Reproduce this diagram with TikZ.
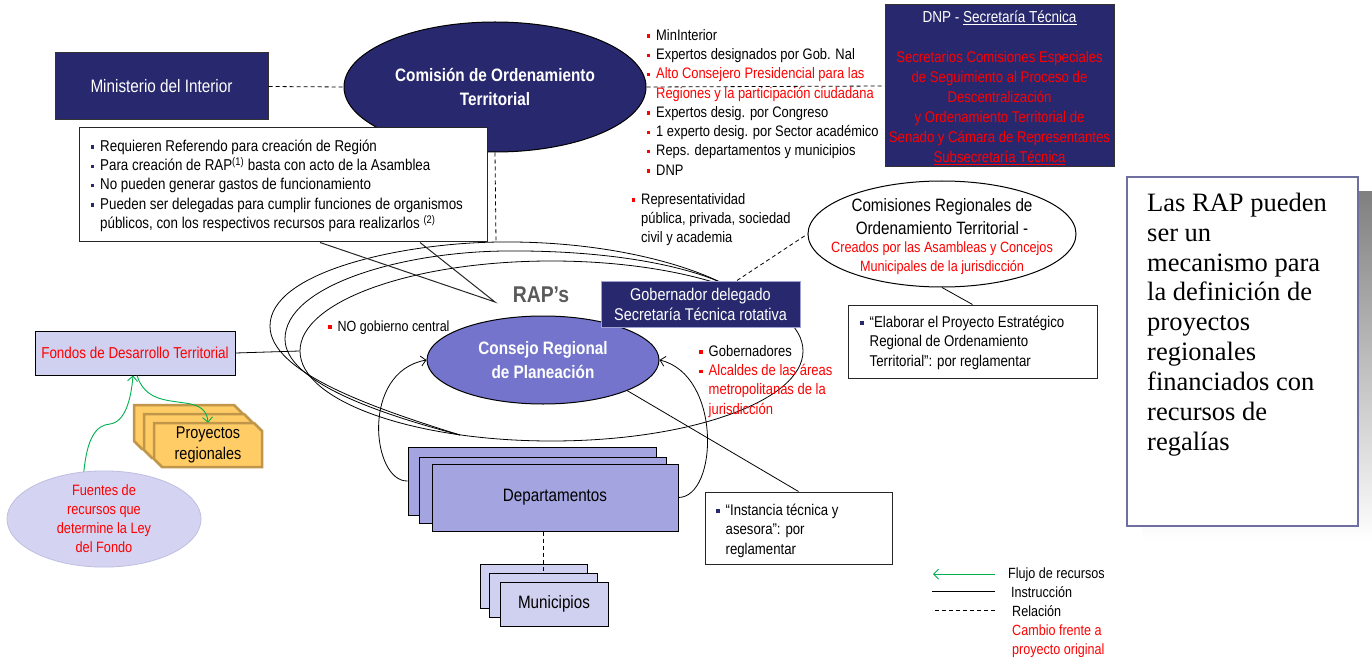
\documentclass[tikz,border=0pt]{standalone}
\usepackage{fontspec}
\setsansfont{Liberation Sans}[FakeStretch=0.85]
\newfontfamily\serifbox{Liberation Serif}
\renewcommand{\familydefault}{\sfdefault}
\usetikzlibrary{arrows.meta,shapes.geometric,calc}

\definecolor{navy}{RGB}{40,40,110}
\definecolor{consej}{RGB}{116,116,204}
\definecolor{deptc}{RGB}{164,164,224}
\definecolor{lav}{RGB}{208,208,240}
\definecolor{fuelav}{RGB}{212,212,242}
\definecolor{gold}{RGB}{255,204,102}
\definecolor{goldedge}{RGB}{192,150,75}
\definecolor{flow}{RGB}{0,176,80}
\definecolor{slate}{RGB}{110,110,160}
\definecolor{shade}{RGB}{192,192,192}
\definecolor{rapgray}{RGB}{90,90,90}
\definecolor{gobedge}{RGB}{160,160,210}

\newcommand\fsz[2]{\fontsize{#1pt}{#2pt}\selectfont}
\newcommand\bsq[1]{\makebox[9.5pt][l]{\textcolor{#1}{\rule[2.6pt]{3.3pt}{3.3pt}}}}
\newcommand\hind{\hspace*{9.5pt}}
\newcommand\lstrut{\rule{0pt}{16pt}}
% chamfered card: top-right and bottom-left corners cut
\newcommand\snipbox[4]{\filldraw[projs] (#1,#2) -- (#3-8,#2) -- (#3,#2+8) -- (#3,#4) -- (#1+8,#4) -- (#1,#4-8) -- cycle;}

\begin{document}
\begin{tikzpicture}[x=1pt,y=-1pt,
  navybox/.style={rectangle, fill=navy, draw=black!80, line width=1pt, text=white, inner sep=0pt},
  wbox/.style={rectangle, fill=white, draw=black!85, line width=1pt, inner sep=0pt},
  depbox/.style={rectangle, fill=deptc, draw=black, line width=1pt, inner sep=0pt},
  munbox/.style={rectangle, fill=lav, draw=black, line width=1pt, inner sep=0pt},
  projs/.style={fill=gold, draw=goldedge, line width=2.5pt, line join=miter},
  txt/.style={inner sep=0pt, align=left, anchor=north west},
  ctxt/.style={inner sep=0pt, align=center, anchor=north},
  rel/.style={draw=black, dash pattern=on 4pt off 3pt, line width=0.8pt},
  instr/.style={draw=black, line width=0.8pt},
  instrarrow/.style={instr, -{Straight Barb[length=5pt,width=10pt]}},
  flowarrow/.style={draw=flow, line width=0.9pt, -{Straight Barb[length=5pt,width=10pt]}}
]
\useasboundingbox (0,0) rectangle (1372,660);
\fill[white] (0,0) rectangle (1372,660);

% ---------- RAP body: stacked back outlines and front ellipse ----------
\coordinate (p1) at (460,435);
\coordinate (p2) at (722,283);
\draw[instr] (p1) .. controls (370,407) and (270,372) .. (270,326) .. controls (270,272) and (400,243) .. (500,242) .. controls (600,241) and (680,262) .. (p2);
\draw[instr] (p1) .. controls (380,414) and (285,382) .. (285,339) .. controls (285,286) and (400,252) .. (505,251) .. controls (610,250) and (685,266) .. (p2);
\node[ellipse, draw=black, line width=0.8pt, minimum width=503pt, minimum height=180pt, inner sep=0pt] (rap) at (551.5,351) {};

% ---------- top: ministry, commission, DNP ----------
\node[navybox, minimum width=213pt, minimum height=67pt, font=\fsz{18}{22}] (mint) at (161.5,86.5) {Ministerio del Interior};
\node[ellipse, fill=navy, draw=black, line width=1pt, minimum width=302pt, minimum height=130pt, inner sep=0pt, text=white, align=center, font=\bfseries\fsz{18}{24}] (cot) at (495,87) {Comisión de Ordenamiento\\Territorial};
\node[navybox, minimum width=229pt, minimum height=162pt] (dnp) at (999.5,86) {};
\node[ctxt, text=white, font=\fsz{15.9}{20}] (dnptitle) at (999.5,6) {\lstrut DNP - \underline{Secretaría Técnica}};
\node[ctxt, text=red, font=\fsz{15.5}{20}] (dnpred) at (999.5,46) {\lstrut Secretarios Comisiones Especiales\\de Seguimiento al Proceso de\\Descentralización\\y Ordenamiento Territorial  de\\Senado y Cámara de Representantes\\\underline{Subsecretaría Técnica}};

\coordinate (raptop) at (496,242);
\draw[rel] (mint.east) -- (cot.west);
\draw[rel] (cot.east) -- (dnp.west);
\draw[rel] (cot.south) -- (raptop);

\node[txt, font=\fsz{15.2}{19.3}] (cotlist) at (646.5,24) {\lstrut\bsq{red}MinInterior\\
\bsq{red}Expertos designados por Gob. Nal\\
\bsq{red}\textcolor{red}{Alto Consejero Presidencial  para las}\\
\hind\textcolor{red}{Regiones y la participación  ciudadana}\\
\bsq{red}Expertos desig. por Congreso\\
\bsq{red}1 experto desig. por Sector académico\\
\bsq{red}Reps. departamentos y municipios\\
\bsq{red}DNP};
\node[txt, font=\fsz{15.2}{19.3}] (repr) at (631.5,188) {\lstrut\bsq{red}Representatividad\\\hind pública, privada, sociedad\\\hind civil y academia};

% ---------- callout with conditions ----------
\node[wbox, minimum width=408pt, minimum height=114pt] (call) at (283,185) {};
\coordinate (calltip) at (495,302);
\draw[line width=1pt, draw=black!85] ([xshift=37pt]call.south) -- (calltip) -- ([xshift=137pt]call.south);
\node[txt, font=\fsz{15.7}{19.3}] (calltxt) at (90.5,135) {\lstrut\bsq{navy}Requieren Referendo para creación de Región\\
\bsq{navy}Para creación de RAP\textsuperscript{(1)} basta con acto de la Asamblea\\
\bsq{navy}No pueden generar gastos de funcionamiento\\
\bsq{navy}Pueden ser delegadas para cumplir funciones de organismos\\
\hind públicos, con los respectivos recursos para realizarlos \textsuperscript{(2)}};

\node[inner sep=0pt, anchor=base, font=\bfseries\fsz{22.8}{26}, text=rapgray] (raplbl) at (541,302) {RAP’s};
\node[txt, font=\fsz{14.7}{18}] (nogc) at (328,315) {\lstrut\bsq{red}NO gobierno central};

% ---------- funds ----------
\node[rectangle, fill=lav, draw=black, line width=1pt, minimum width=200pt, minimum height=44pt, inner sep=0pt, text=red, font=\fsz{15.8}{19}] (fon) at (135,353) {Fondos de Desarrollo Territorial};
\draw[instr] (fon.east) -- (rap.west);

% ---------- council ----------
\node[ellipse, fill=consej, draw=black, line width=1pt, minimum width=232pt, minimum height=88pt, inner sep=0pt, text=white, align=center, font=\bfseries\fsz{18}{24}] (cons) at (543,360) {Consejo Regional\\de Planeación};
\node[navybox, draw=gobedge, minimum width=199pt, minimum height=46pt, align=center, font=\fsz{17}{20}] (gob) at (700.5,304) {Gobernador delegado\\Secretaría Técnica  rotativa};
\node[txt, font=\fsz{15.3}{19.3}] (gobl) at (699,340) {\lstrut\bsq{red}Gobernadores\\
\bsq{red}\textcolor{red}{Alcaldes de las áreas}\\
\hind\textcolor{red}{metropolitanas de la}\\
\hind\textcolor{red}{jurisdicción}};

% ---------- regional commissions ----------
\node[ellipse, draw=black, fill=white, line width=1pt, minimum width=268pt, minimum height=106pt, inner sep=0pt] (crot) at (942,234) {};
\node[ctxt, font=\fsz{17.9}{23}] (crott) at (942,193) {\rule{0pt}{18pt}Comisiones Regionales de\\Ordenamiento  Territorial -};
\node[ctxt, font=\fsz{14.9}{19}, text=red] (crotr) at (942,237) {\rule{0pt}{15pt}Creados por las  Asambleas  y Concejos\\Municipales  de la jurisdicción};
\draw[rel] ([xshift=36.5pt]gob.north) -- (crot.west);

\node[wbox, minimum width=249pt, minimum height=73pt] (elab) at (972.5,341.5) {};
\draw[instr] (crot.south) -- (elab.north);
\node[txt, font=\fsz{15.6}{19.5}] (elabt) at (860,311) {\lstrut\bsq{navy}“Elaborar el Proyecto Estratégico\\\hind Regional de Ordenamiento\\\hind Territorial”: por reglamentar};

% ---------- departments and municipalities ----------
\node[depbox, minimum width=248pt, minimum height=68pt] (dep3) at (532,481) {};
\node[depbox, minimum width=247pt, minimum height=66pt] (dep2) at (542.5,490) {};
\node[depbox, minimum width=246pt, minimum height=67pt, font=\fsz{17.9}{22}] (dep) at (555,497.5) {Departamentos};
\node[munbox, minimum width=107pt, minimum height=44pt] (mun3) at (533.5,586) {};
\node[munbox, minimum width=108pt, minimum height=44pt] (mun2) at (543,595) {};
\node[munbox, minimum width=108pt, minimum height=44pt, font=\fsz{17.9}{22}] (mun) at (554,604) {Municipios};
\draw[rel] (dep.south -| mun2.north) -- (mun2.north);

\draw[instrarrow] (dep3.west) .. controls (372,482) and (360,372) .. (cons.west);
\draw[instrarrow] (dep.east) .. controls (718,497) and (722,375) .. (cons.east);

\node[wbox, minimum width=187pt, minimum height=72pt] (inst) at (798.5,528) {};
\draw[instr] (cons.-20) -- (inst.north);
\node[txt, font=\fsz{15.5}{19.5}] (instt) at (716,499) {\lstrut\bsq{navy}“Instancia técnica y\\\hind asesora”: por\\\hind reglamentar};

% ---------- regional projects and funding sources ----------
\snipbox{134}{405}{242}{449}
\snipbox{144}{414}{252}{458}
\snipbox{154}{423}{262}{467}
\node[inner sep=0pt, minimum width=108pt, minimum height=44pt, align=center, font=\fsz{17}{21}] (proy) at (208,445) {Proyectos\\regionales};

\node[ellipse, fill=fuelav, draw={rgb,255:red,190;green,190;blue,225}, line width=0.8pt, minimum width=194pt, minimum height=88pt, inner sep=0pt, align=center, text=red, font=\fsz{15}{19}] (fue) at (104,519) {Fuentes de\\recursos que\\determine la  Ley\\del Fondo};

\draw[flowarrow] (fue.113) .. controls (87,440) and (95,425) .. (110,424) .. controls (125,422) and (131,400) .. ([xshift=-2pt]fon.south);
\draw[flowarrow] ([xshift=2pt]fon.south) .. controls (145,400) and (165,400) .. (185,403) .. controls (200,405) and (207,410) .. (proy.north);

% ---------- side note ----------
\fill[shade] (1142,192) rectangle (1372,541);
\node[rectangle, draw=slate, line width=2pt, fill=white, minimum width=231pt, minimum height=349pt, inner sep=0pt] (note) at (1242.5,351.5) {};
\node[txt, font=\serifbox\fsz{26.5}{29.9}] (notet) at (1147,187) {\rule{0pt}{24pt}Las RAP pueden\\ser un\\mecanismo para\\la definición de\\proyectos\\regionales\\financiados con\\recursos de\\regalías};

% ---------- legend ----------
\node[inner sep=0pt, anchor=base west, font=\fsz{14.8}{19}] (lg1) at (1008,578) {Flujo de recursos};
\node[inner sep=0pt, anchor=base west, font=\fsz{14.8}{19}] (lg2) at (1011,597) {Instrucción};
\node[inner sep=0pt, anchor=base west, font=\fsz{14.8}{19}] (lg3) at (1012,616) {Relación};
\node[inner sep=0pt, anchor=base west, font=\fsz{14.8}{19}, text=red] (lg4) at (1012,635) {Cambio frente a};
\node[inner sep=0pt, anchor=base west, font=\fsz{14.8}{19}, text=red] (lg5) at (1012,654) {proyecto original};
\draw[flowarrow] ([xshift=-13pt]lg1.west) -- ++(-62,0);
\draw[instr] ([xshift=-16pt]lg2.west) -- ++(-63,0);
\draw[rel] ([xshift=-17pt]lg3.west) -- ++(-63,0);
\end{tikzpicture}
\end{document}
